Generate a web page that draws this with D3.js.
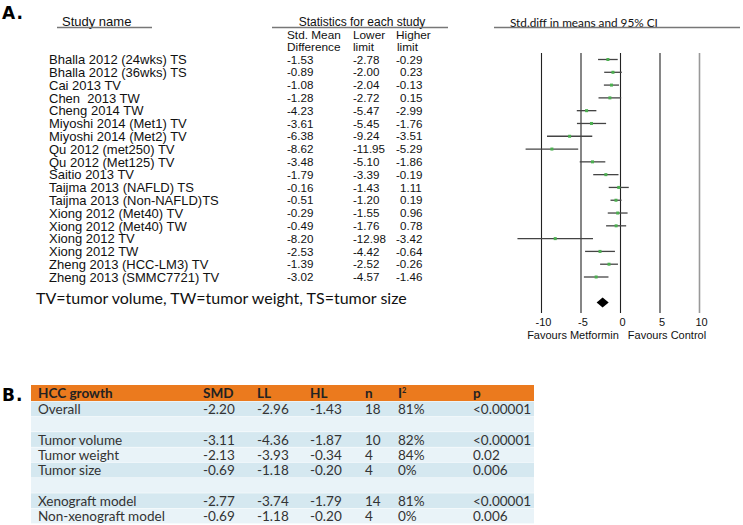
<!DOCTYPE html>
<html><head><meta charset="utf-8">
<script src="https://cdn.jsdelivr.net/npm/d3@7"></script>
<style>body{margin:0;background:#fff} text{white-space:pre}</style>
</head><body><svg id="c" width="743" height="525"></svg>
<script>
const studies = ["Bhalla 2012 (24wks) TS","Bhalla 2012 (36wks) TS","Cai 2013 TV","Chen  2013 TW","Cheng 2014 TW","Miyoshi 2014 (Met1) TV","Miyoshi 2014 (Met2) TV","Qu 2012 (met250) TV","Qu 2012 (Met125) TV","Saitio 2013 TV","Taijma 2013 (NAFLD) TS","Taijma 2013 (Non-NAFLD)TS","Xiong 2012 (Met40) TV","Xiong 2012 (Met40) TW","Xiong 2012 TV","Xiong 2012 TW","Zheng 2013 (HCC-LM3) TV","Zheng 2013 (SMMC7721) TV"];
const smd   = [-1.53,-0.89,-1.08,-1.28,-4.23,-3.61,-6.38,-8.62,-3.48,-1.79,-0.16,-0.51,-0.29,-0.49,-8.20,-2.53,-1.39,-3.02];
const lower = [-2.78,-2.00,-2.04,-2.72,-5.47,-5.45,-9.24,-11.95,-5.10,-3.39,-1.43,-1.20,-1.55,-1.76,-12.98,-4.42,-2.52,-4.57];
const upper = [-0.29,0.23,-0.13,0.15,-2.99,-1.76,-3.51,-5.29,-1.86,-0.19,1.11,0.19,0.96,0.78,-3.42,-0.64,-0.26,-1.46];
const summary = {smd:-2.20, lower:-2.96, upper:-1.43};
const axisTicks = [-10,-5,0,5,10];

const tableLabels = ["Overall","","Tumor volume","Tumor weight","Tumor size","","Xenograft model","Non-xenograft model"];
const tableSMD = ["-2.20","","-3.11","-2.13","-0.69","","-2.77","-0.69"];
const tableLL  = ["-2.96","","-4.36","-3.93","-1.18","","-3.74","-1.18"];
const tableHL  = ["-1.43","","-1.87","-0.34","-0.20","","-1.79","-0.20"];
const tableN   = ["18","","10","4","4","","14","4"];
const tableI2  = ["81%","","82%","84%","0%","","81%","0%"];
const tableP   = ["<0.00001","","<0.00001","0.02","0.006","","<0.00001","0.006"];

const svg = d3.select("#c");
const arial = "'Liberation Sans', Arial, sans-serif";
const cal = "Lato, 'Open Sans', sans-serif";

function fit(sel, target){
  const w = sel.node().getComputedTextLength();
  const fs = parseFloat(sel.attr("font-size"));
  sel.attr("font-size", fs*target/w);
  return fs*target/w;
}

// ---------- Panel A ----------
svg.append("text").attr("x",2).attr("y",19).attr("font-family","'DejaVu Sans', Arial").attr("font-weight","bold")
  .attr("font-size",17).attr("letter-spacing",1).text("A.");

const y = d3.scalePoint().domain(d3.range(studies.length)).range([59.5, 277]);
const x = d3.scaleLinear().domain([-10,10]).range([541,699]);

// headers
svg.append("text").attr("x",62).attr("y",26).attr("font-family",arial).attr("font-size",13).attr("fill","#111").text("Study name");
svg.append("line").attr("x1",57).attr("x2",152).attr("y1",27.5).attr("y2",27.5).attr("stroke","#777").attr("stroke-width",1.5);
svg.append("text").attr("x",362).attr("y",26).attr("text-anchor","middle").attr("font-family",arial).attr("font-size",12).attr("fill","#111").text("Statistics for each study");
svg.append("line").attr("x1",272).attr("x2",448).attr("y1",27.5).attr("y2",27.5).attr("stroke","#777").attr("stroke-width",1.5);
const colX = [287,353,396];
[["Std. Mean","Difference"],["Lower","limit"],["Higher","limit"]].forEach((h,i)=>{
  svg.append("text").attr("x",colX[i]).attr("y",38.5).attr("font-family",arial).attr("font-size",11.8).attr("fill","#111").text(h[0]);
  svg.append("text").attr("x",colX[i]+(i===2?1:0)).attr("y",51).attr("font-family",arial).attr("font-size",11.8).attr("fill","#111").text(h[1]);
});
const rh = svg.append("text").attr("x",510).attr("y",27).attr("font-family",cal).attr("font-size",13).attr("fill","#111").text("Std.diff in means and 95% CI");
fit(rh,148);
svg.append("line").attr("x1",494).attr("x2",740).attr("y1",27.5).attr("y2",27.5).attr("stroke","#777").attr("stroke-width",1.5);

// study rows
const rows = svg.append("g");
studies.forEach((s,i)=>{
  const yy = y(i);
  rows.append("text").attr("x",49).attr("y",yy).attr("dy","0.36em").attr("font-family",arial).attr("font-size",13).attr("fill","#111").text(s);
  [smd[i],lower[i],upper[i]].forEach((v,j)=>{
    rows.append("text").attr("x",colX[j]+(v>=0?4:0)).attr("y",yy).attr("dy","0.36em").attr("font-family",arial).attr("font-size",11.6).attr("fill","#111").text(v.toFixed(2));
  });
});

// footnote
const fn = svg.append("text").attr("x",36).attr("y",304).attr("font-family",cal).attr("font-size",14).attr("fill","#111")
  .text("TV=tumor volume, TW=tumor weight, TS=tumor size");
fit(fn,371);

// axis with grid lines
const axis = d3.axisBottom(x).tickValues(axisTicks).tickSize(260).tickPadding(5).tickFormat(d=>d);
const ag = svg.append("g").attr("transform","translate(0,53)").call(axis);
ag.select(".domain").remove();
ag.selectAll(".tick line").attr("stroke",d=>d===10?"#999":"#222").attr("stroke-width",d=>d===10?1.6:1.1);
ag.selectAll(".tick text").attr("font-family",arial).attr("font-size",11).attr("fill","#111").attr("dx",2);

// whiskers and points
const fp = svg.append("g");
studies.forEach((s,i)=>{
  fp.append("line").attr("x1",x(lower[i])).attr("x2",x(upper[i])).attr("y1",y(i)).attr("y2",y(i)).attr("stroke","#444").attr("stroke-width",1.3);
  fp.append("rect").attr("x",x(smd[i])-1.5).attr("y",y(i)-1.5).attr("width",3).attr("height",3).attr("fill","#4caf50");
});
// summary diamond
const dy0 = 302.5;
fp.append("path").attr("d",`M${x(summary.lower)},${dy0} L${x(summary.smd)},${dy0-5} L${x(summary.upper)},${dy0} L${x(summary.smd)},${dy0+5} Z`).attr("fill","#000");

svg.append("text").attr("x",573).attr("y",335).attr("dy","0.36em").attr("text-anchor","middle").attr("font-family",arial).attr("font-size",11).attr("fill","#111").text("Favours Metformin");
svg.append("text").attr("x",667).attr("y",335).attr("dy","0.36em").attr("text-anchor","middle").attr("font-family",arial).attr("font-size",11).attr("fill","#111").text("Favours Control");

// ---------- Panel B ----------
svg.append("text").attr("x",2).attr("y",401).attr("font-family","'DejaVu Sans', Arial").attr("font-weight","bold")
  .attr("font-size",17).attr("letter-spacing",1).text("B.");

const tx0 = 31, tx1 = 534, tTop = 385, hh = 16, rH = 15.3;
svg.append("rect").attr("x",tx0).attr("y",tTop).attr("width",tx1-tx0).attr("height",hh).attr("fill","#eb7a1e");
const tcols = [38,203,257,310,365,398,473];
const tf = svg.append("text").attr("x",-100).attr("y",-100).attr("font-family",cal).attr("font-size",13).text("Non-xenograft model");
const tfs = fit(tf,127); tf.remove();
const headers = ["HCC growth","SMD","LL","HL","n","I","p"];
headers.forEach((h,i)=>{
  const t = svg.append("text").attr("x",tcols[i]).attr("y",tTop+hh/2).attr("dy","0.36em").attr("font-family",cal).attr("font-weight","bold").attr("font-size",tfs).attr("fill","#222").text(h);
  if(h==="I") t.append("tspan").attr("font-size",tfs*0.55).attr("dy","-0.7em").text("2");
});
const cols = [tableLabels,tableSMD,tableLL,tableHL,tableN,tableI2,tableP];
tableLabels.forEach((lab,r)=>{
  const ry = tTop+hh+r*rH;
  svg.append("rect").attr("x",tx0).attr("y",ry+0.5).attr("width",tx1-tx0).attr("height",rH-0.5).attr("fill",r%2===0?"#d5e8f0":"#e9f3f8");
  cols.forEach((c,ci)=>{
    if(c[r]) svg.append("text").attr("x",tcols[ci]).attr("y",ry+rH/2+0.5).attr("dy","0.36em").attr("font-family",cal).attr("font-size",tfs).attr("fill","#333").text(c[r]);
  });
});
</script></body></html>
